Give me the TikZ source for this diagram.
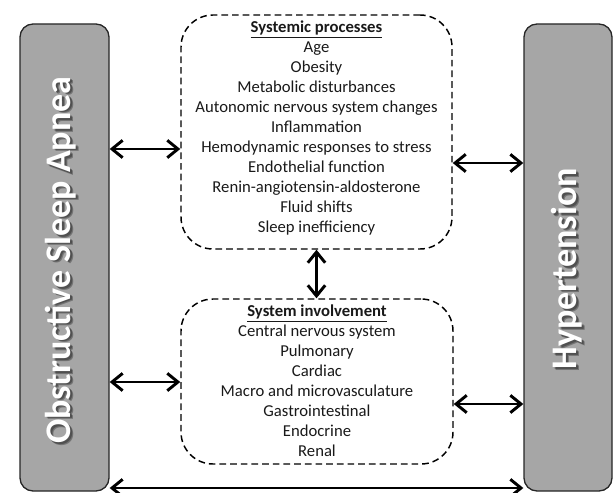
\documentclass[tikz,border=0pt]{standalone}
\usepackage{fontspec}
\setmainfont{Carlito}
\usetikzlibrary{arrows.meta}
\definecolor{barfill}{HTML}{A6A6A6}
\begin{document}
\begin{tikzpicture}[x=0.75pt,y=-0.75pt,
  bar/.style={draw=black!85, line width=1pt, fill=barfill, rounded corners=9.75pt,
    minimum height=350.25pt, inner sep=0pt},
  dbox/.style={draw=black, line width=1.1pt, dash pattern=on 5pt off 3pt,
    rounded corners=24pt, inner sep=0pt},
  bartext/.style={font=\fontsize{27}{30}\selectfont\bfseries, text=white, rotate=90, inner sep=0pt},
  shadowtext/.style={bartext, text=black, opacity=0.3},
  body/.style={font=\fontsize{12.5}{15}\selectfont, align=center, text=black!90, inner sep=0pt},
  arr/.style={line width=2.2pt, {Straight Barb[length=8pt,width=13pt]}-{Straight Barb[length=8pt,width=13pt]}}
]
\useasboundingbox (0,0) rectangle (613,492);

% side bars
\node[bar, minimum width=66.75pt] (osa) at (64.5,257.5) {};
\node[bar, minimum width=66pt] (htn) at (568,257.5) {};

% bar labels with soft shadow
\node[shadowtext] (osaS1) at (63,261.5) {Obstructive Sleep Apnea};
\node[shadowtext] (osaS2) at (64,262.5) {Obstructive Sleep Apnea};
\node[bartext] (osaT) at (61,260) {Obstructive Sleep Apnea};
\node[shadowtext] (htnS1) at (569,270.5) {Hypertension};
\node[shadowtext] (htnS2) at (570,271.5) {Hypertension};
\node[bartext] (htnT) at (567,269) {Hypertension};

% dashed boxes
\node[dbox, minimum width=203.25pt, minimum height=175.5pt] (sp) at (316.5,132) {};
\node[dbox, minimum width=204pt, minimum height=123.75pt] (si) at (317,381.5) {};

% box texts
\node[body] (spT) at (316.5,128) {\underline{\textbf{Systemic processes}}\\
Age\\
Obesity\\
Metabolic disturbances\\
Autonomic nervous system changes\\
Inflammation\\
Hemodynamic responses to stress\\
Endothelial function\\
Renin-angiotensin-aldosterone\\
Fluid shifts\\
Sleep inefficiency};
\node[body] (siT) at (317,381) {\underline{\textbf{System involvement}}\\
Central nervous system\\
Pulmonary\\
Cardiac\\
Macro and microvasculature\\
Gastrointestinal\\
Endocrine\\
Renal};

% connectors
\coordinate (y1) at (0,149);
\coordinate (y2) at (0,163);
\coordinate (y3) at (0,382);
\coordinate (y4) at (0,404);
\coordinate (y5) at (0,488);
\draw[arr] (osa.east |- y1) -- (sp.west |- y1);
\draw[arr] (sp.east |- y2) -- (htn.west |- y2);
\draw[arr] (osa.east |- y3) -- (si.west |- y3);
\draw[arr] (si.east |- y4) -- (htn.west |- y4);
\draw[arr] (sp.south) -- (sp.south |- si.north);
\draw[arr] (osa.east |- y5) -- (htn.west |- y5);
\end{tikzpicture}
\end{document}
